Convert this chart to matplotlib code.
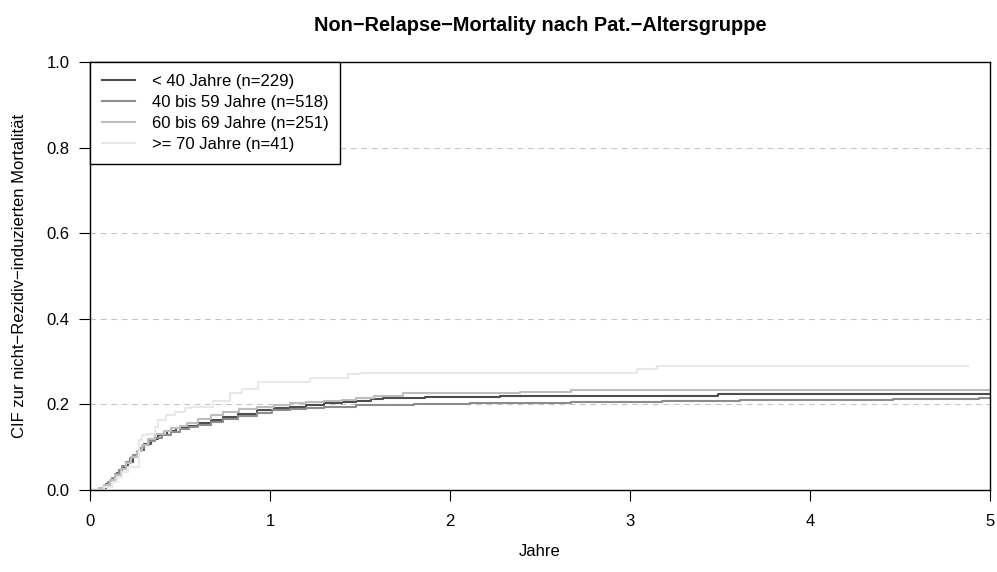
import matplotlib
matplotlib.use("Agg")
import matplotlib.pyplot as plt

plt.rcParams['font.family'] = ['Liberation Sans', 'DejaVu Sans']

title = "Non\u2212Relapse\u2212Mortality nach Pat.\u2212Altersgruppe"
xlabel = "Jahre"
ylabel = "CIF zur nicht\u2212Rezidiv\u2212induzierten Mortalit\u00e4t"

labels = ["< 40 Jahre (n=229)", "40 bis 59 Jahre (n=518)",
          "60 bis 69 Jahre (n=251)", ">= 70 Jahre (n=41)"]
colors = ["#4d4d4d", "#8c8c8c", "#bdbdbd", "#e8e8e8"]

# step-function CIF estimates (time in years, value)
t_lt40 = [0, 0.06, 0.09, 0.12, 0.15, 0.18, 0.21, 0.24, 0.27, 0.30, 0.34, 0.38,
          0.43, 0.48, 0.54, 0.60, 0.67, 0.74, 0.82, 0.93, 1.02, 1.11, 1.20, 1.30,
          1.40, 1.48, 1.56, 1.63, 1.86, 2.28, 3.49, 5.0]
v_lt40 = [0, 0.004, 0.013, 0.026, 0.039, 0.052, 0.066, 0.079, 0.093, 0.107, 0.119, 0.128,
          0.137, 0.145, 0.150, 0.156, 0.163, 0.171, 0.178, 0.187, 0.191, 0.195, 0.198, 0.2025,
          0.206, 0.2085, 0.212, 0.214, 0.2166, 0.2204, 0.2235, 0.2235]

t_40_59 = [0, 0.05, 0.08, 0.10, 0.12, 0.14, 0.16, 0.18, 0.20, 0.22, 0.24, 0.26, 0.28,
           0.30, 0.33, 0.36, 0.40, 0.45, 0.50, 0.55, 0.60, 0.67, 0.74, 0.82, 0.93, 1.01,
           1.11, 1.20, 1.30, 1.48, 1.60, 1.80, 2.11, 2.40, 2.67, 3.18, 3.61, 4.46, 4.94, 5.0]
v_40_59 = [0, 0.003, 0.010, 0.018, 0.028, 0.038, 0.047, 0.057, 0.066, 0.074, 0.082, 0.090, 0.098,
           0.106, 0.115, 0.121, 0.128, 0.136, 0.142, 0.147, 0.152, 0.159, 0.166, 0.173, 0.181, 0.186,
           0.190, 0.192, 0.195, 0.198, 0.199, 0.201, 0.2025, 0.204, 0.206, 0.2087, 0.210, 0.2126, 0.2145, 0.2145]

t_60_69 = [0, 0.05, 0.08, 0.11, 0.14, 0.17, 0.20, 0.23, 0.26, 0.29, 0.32, 0.36, 0.41,
           0.45, 0.50, 0.54, 0.60, 0.67, 0.74, 0.83, 0.93, 1.02, 1.11, 1.20, 1.30, 1.40,
           1.48, 1.58, 1.74, 2.02, 2.39, 2.67, 2.95, 5.0]
v_60_69 = [0, 0.004, 0.012, 0.024, 0.036, 0.050, 0.062, 0.076, 0.090, 0.104, 0.118, 0.132, 0.139,
           0.144, 0.150, 0.156, 0.167, 0.175, 0.183, 0.189, 0.195, 0.199, 0.2025, 0.205, 0.208, 0.211,
           0.214, 0.220, 0.226, 0.227, 0.2297, 0.2325, 0.234, 0.234]

t_ge70 = [0, 0.08, 0.12, 0.15, 0.18, 0.21, 0.27, 0.29, 0.32, 0.36, 0.38, 0.42, 0.47,
          0.53, 0.56, 0.685, 0.78, 0.843, 0.935, 1.222, 1.435, 1.50, 3.04, 3.15, 4.88]
v_ge70 = [0, 0.008, 0.019, 0.030, 0.043, 0.054, 0.117, 0.128, 0.132, 0.148, 0.164, 0.175, 0.183,
          0.191, 0.195, 0.208, 0.226, 0.236, 0.2515, 0.261, 0.270, 0.273, 0.282, 0.290, 0.290]

series = [(t_lt40, v_lt40), (t_40_59, v_40_59), (t_60_69, v_60_69), (t_ge70, v_ge70)]

xticks = [0, 1, 2, 3, 4, 5]
yticks = [0.0, 0.2, 0.4, 0.6, 0.8, 1.0]
ygrid = [0.2, 0.4, 0.6, 0.8]

fig = plt.figure(figsize=(9.97, 5.72), dpi=100)
ax = fig.add_axes([90/997, (572-490)/572, 900/997, 428/572])

for g in ygrid:
    ax.axhline(g, color="#c4c4c4", lw=0.75, linestyle=(0, (5.5, 4.5)), zorder=1)

handles = []
for (t, v), c, lab in zip(series, colors, labels):
    h, = ax.step(t, v, where="post", color=c, lw=1.5, label=lab, zorder=2)
    handles.append(h)

ax.set_xlim(0, 5)
ax.set_ylim(0, 1)
ax.set_xticks(xticks)
ax.set_xticklabels([str(x) for x in xticks])
ax.set_yticks(yticks)
ax.set_yticklabels(["%.1f" % y for y in yticks])
ax.tick_params(direction="out", length=7.7, width=0.8, labelsize=12, color="black")
ax.tick_params(axis="x", pad=9.5)
ax.tick_params(axis="y", pad=7)
for s in ax.spines.values():
    s.set_linewidth(1.0)
    s.set_color("black")

ax.set_title(title, fontsize=14.4, fontweight="bold", pad=22.5)
ax.set_xlabel(xlabel, fontsize=12, labelpad=11)
ax.set_ylabel(ylabel, fontsize=12, labelpad=14)

leg = ax.legend(handles=handles, loc="upper left", bbox_to_anchor=(0, 1),
                borderaxespad=0, fancybox=False, edgecolor="black", framealpha=1,
                fontsize=12, handlelength=2.0, handletextpad=1.0, labelspacing=0.37,
                borderpad=0.7)
leg.get_frame().set_linewidth(1.0)
leg.set_zorder(5)

fig.savefig("out.png", dpi=100)
